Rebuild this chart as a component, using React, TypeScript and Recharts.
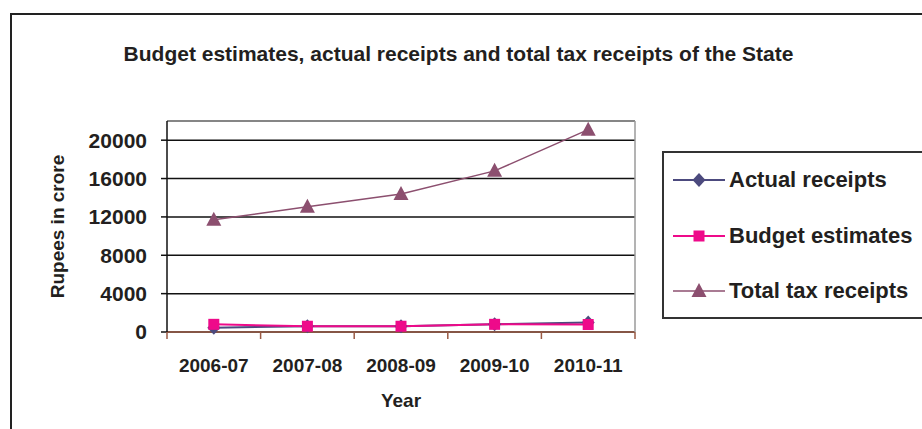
import React from "react";
import {
  LineChart,
  Line,
  XAxis,
  YAxis,
  CartesianGrid,
  Legend,
  ReferenceLine,
} from "recharts";

const YEARS = ["2006-07", "2007-08", "2008-09", "2009-10", "2010-11"];
const ACTUAL_RECEIPTS = [450, 600, 600, 800, 980];
const BUDGET_ESTIMATES = [800, 600, 600, 800, 780];
const TOTAL_TAX_RECEIPTS = [11700, 13050, 14400, 16800, 21100];
const Y_TICKS = [0, 4000, 8000, 12000, 16000, 20000];
const Y_MAX = 22000;

const TITLE = "Budget estimates, actual receipts and total tax receipts of the State";

const FONT = '"Liberation Sans", Arial, sans-serif';
const TEXT = "#231f20";
const BROWN = "#9a5a44";
const FRAME = "#9a9a9a";

const WIDTH = 922;
const HEIGHT = 429;
const MARGIN = { top: 121, right: 286, bottom: 17, left: 40 };
const PLOT_W = WIDTH - MARGIN.left - 127 - MARGIN.right - 1;
const HALF_BAND = PLOT_W / YEARS.length / 2;

const SERIES = [
  { key: "actual", name: "Actual receipts", color: "#4c4a7e", width: 2, shape: "diamond" },
  { key: "budget", name: "Budget estimates", color: "#ee0a8a", width: 2, shape: "square" },
  { key: "total", name: "Total tax receipts", color: "#8c4f6f", width: 1.5, shape: "triangle" },
];

const data = YEARS.map((year, i) => ({
  year,
  actual: ACTUAL_RECEIPTS[i],
  budget: BUDGET_ESTIMATES[i],
  total: TOTAL_TAX_RECEIPTS[i],
}));

function Marker({ cx, cy, shape, color }: any) {
  if (cx == null || cy == null) return null;
  if (shape === "diamond") {
    return (
      <path
        d={`M${cx},${cy - 7}L${cx + 6.5},${cy}L${cx},${cy + 7}L${cx - 6.5},${cy}Z`}
        fill={color}
      />
    );
  }
  if (shape === "square") {
    return <rect x={cx - 5.5} y={cy - 5.5} width={11} height={11} fill={color} />;
  }
  return (
    <path d={`M${cx},${cy - 8}L${cx + 7.5},${cy + 6}L${cx - 7.5},${cy + 6}Z`} fill={color} />
  );
}

function YearTick({ x, y, payload, index }: any) {
  return (
    <g>
      <line x1={x - HALF_BAND} y1={y} x2={x - HALF_BAND} y2={y + 7} stroke={BROWN} strokeWidth={1.5} />
      {index === YEARS.length - 1 && (
        <line x1={x + HALF_BAND} y1={y} x2={x + HALF_BAND} y2={y + 7} stroke={BROWN} strokeWidth={1.5} />
      )}
      <text
        x={x}
        y={y + 40}
        textAnchor="middle"
        fill={TEXT}
        fontSize={19}
        fontWeight="bold"
        fontFamily={FONT}
      >
        {payload.value}
      </text>
    </g>
  );
}

function LegendBox() {
  return (
    <div
      style={{
        position: "relative",
        width: 280,
        height: 168,
        boxSizing: "border-box",
        border: "2px solid #333",
        background: "#fff",
      }}
    >
      {SERIES.map((s, i) => (
        <div
          key={s.key}
          style={{
            position: "absolute",
            left: 9,
            top: 27 + i * 55.5 - 14,
            height: 28,
            display: "flex",
            alignItems: "center",
            whiteSpace: "nowrap",
          }}
        >
          <svg width={54} height={20}>
            <line x1={0} y1={10} x2={52} y2={10} stroke={s.color} strokeWidth={s.width} />
            <Marker cx={26} cy={10} shape={s.shape} color={s.color} />
          </svg>
          <span
            style={{
              fontFamily: FONT,
              fontWeight: "bold",
              fontSize: 22,
              color: TEXT,
              marginLeft: 2,
            }}
          >
            {s.name}
          </span>
        </div>
      ))}
    </div>
  );
}

export default function App() {
  return (
    <div
      style={{
        position: "absolute",
        left: 0,
        top: 0,
        width: WIDTH,
        height: HEIGHT,
        overflow: "hidden",
        background: "#fff",
        fontFamily: FONT,
      }}
    >
      <div
        style={{
          position: "absolute",
          left: 10,
          top: 13,
          width: WIDTH,
          height: HEIGHT,
          borderTop: "2px solid #222",
          borderLeft: "2px solid #222",
        }}
      />
      <div
        style={{
          position: "absolute",
          left: 0,
          width: 917,
          top: 42,
          textAlign: "center",
          fontSize: 21,
          fontWeight: "bold",
          color: TEXT,
          whiteSpace: "nowrap",
        }}
      >
        {TITLE}
      </div>
      <div style={{ position: "absolute", left: 0, top: 0 }}>
        <LineChart width={WIDTH} height={HEIGHT} data={data} margin={MARGIN}>
          <CartesianGrid vertical={false} stroke="#111" strokeWidth={1.5} />
          <ReferenceLine y={Y_MAX} stroke={FRAME} strokeWidth={1.5} />
          <XAxis
            dataKey="year"
            padding={{ left: HALF_BAND, right: HALF_BAND }}
            height={80}
            interval={0}
            tickSize={0}
            tickMargin={0}
            tick={<YearTick />}
            axisLine={{ stroke: BROWN, strokeWidth: 1.5 }}
            label={{
              content: ({ viewBox }: any) => (
                <text
                  x={viewBox.x + viewBox.width / 2}
                  y={viewBox.y + 75}
                  textAnchor="middle"
                  fill={TEXT}
                  fontSize={19}
                  fontWeight="bold"
                  fontFamily={FONT}
                >
                  Year
                </text>
              ),
            }}
          />
          <YAxis
            width={127}
            domain={[0, Y_MAX]}
            ticks={Y_TICKS}
            interval={0}
            tickSize={6}
            tickMargin={14}
            axisLine={{ stroke: "#111", strokeWidth: 1.5 }}
            tickLine={{ stroke: "#111", strokeWidth: 1.5 }}
            tick={{ fill: TEXT, fontSize: 21, fontWeight: "bold", fontFamily: FONT }}
            label={{
              content: ({ viewBox }: any) => {
                const lx = viewBox.x + 24;
                const ly = viewBox.y + viewBox.height / 2;
                return (
                  <text
                    x={lx}
                    y={ly}
                    transform={`rotate(-90 ${lx} ${ly})`}
                    textAnchor="middle"
                    fill={TEXT}
                    fontSize={19}
                    fontWeight="bold"
                    fontFamily={FONT}
                  >
                    Rupees in crore
                  </text>
                );
              },
            }}
          />
          <YAxis
            yAxisId="frame"
            orientation="right"
            width={1}
            domain={[0, Y_MAX]}
            tick={false}
            tickLine={false}
            axisLine={{ stroke: FRAME, strokeWidth: 1.5 }}
          />
          <Legend
            layout="vertical"
            align="center"
            verticalAlign="middle"
            content={() => <LegendBox />}
            wrapperStyle={{ left: 662, top: 151, width: 280, height: 168 }}
          />
          {SERIES.map((s) => (
            <Line
              key={s.key}
              dataKey={s.key}
              name={s.name}
              type="linear"
              stroke={s.color}
              strokeWidth={s.width}
              isAnimationActive={false}
              dot={(p: any) => (
                <Marker key={`${s.key}-${p.index}`} cx={p.cx} cy={p.cy} shape={s.shape} color={s.color} />
              )}
              activeDot={false}
            />
          ))}
        </LineChart>
      </div>
    </div>
  );
}
